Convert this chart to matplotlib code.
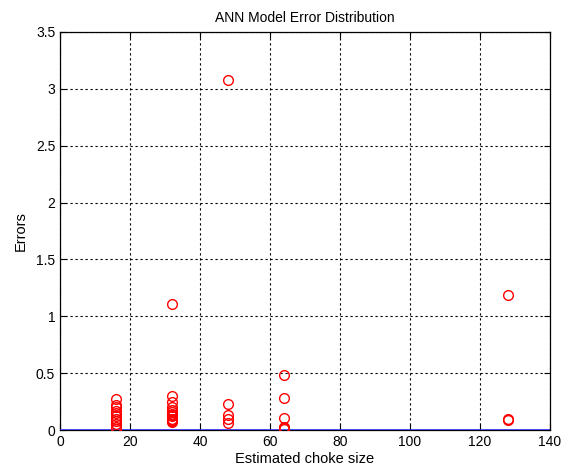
import numpy as np
import matplotlib
matplotlib.use("Agg")
import matplotlib.pyplot as plt

# estimated choke size vs. model error
x16 = [16] * 11
e16 = [0.27, 0.22, 0.20, 0.17, 0.15, 0.12, 0.10, 0.08, 0.05, 0.03, 0.01]
x32 = [32] * 13
e32 = [1.11, 0.30, 0.25, 0.20, 0.18, 0.16, 0.14, 0.13, 0.12, 0.10, 0.09, 0.08, 0.07]
x48 = [48] * 5
e48 = [3.08, 0.23, 0.13, 0.10, 0.06]
x64 = [64] * 6
e64 = [0.48, 0.28, 0.11, 0.03, 0.02, 0.01]
x128 = [128] * 3
e128 = [1.19, 0.10, 0.09]

sizes = x16 + x32 + x48 + x64 + x128
errors = e16 + e32 + e48 + e64 + e128

zero_x = [0, 140]
zero_y = [0, 0]

plt.rcParams['font.family'] = 'Liberation Sans'
fig = plt.figure(figsize=(5.61, 4.75), dpi=100)
ax = fig.add_axes([0.107, 0.0947, 0.873, 0.838])

ax.plot(zero_x, zero_y, color='#3333ff', lw=1.2, zorder=3)
ax.plot(sizes, errors, 'o', mfc='none', mec='red', ms=7, mew=1.0, zorder=4)

ax.set_xlim(0, 140)
ax.set_ylim(0, 3.5)
ax.set_xticks(np.arange(0, 141, 20))
ax.set_yticks(np.arange(0, 3.51, 0.5))
ax.set_yticklabels(['0', '0.5', '1', '1.5', '2', '2.5', '3', '3.5'])
ax.grid(True, color='black', linestyle=(0, (2, 2.5)), lw=0.8)
ax.tick_params(direction='in', top=True, right=True, labelsize=10, length=4)
for s in ax.spines.values():
    s.set_linewidth(0.9)

ax.set_xlabel('Estimated choke size', fontsize=10.5, labelpad=2)
ax.set_ylabel('Errors', fontsize=10.5, labelpad=6)
ax.set_title('ANN Model Error Distribution', fontsize=10, pad=7)

fig.savefig('out.png', dpi=100)
